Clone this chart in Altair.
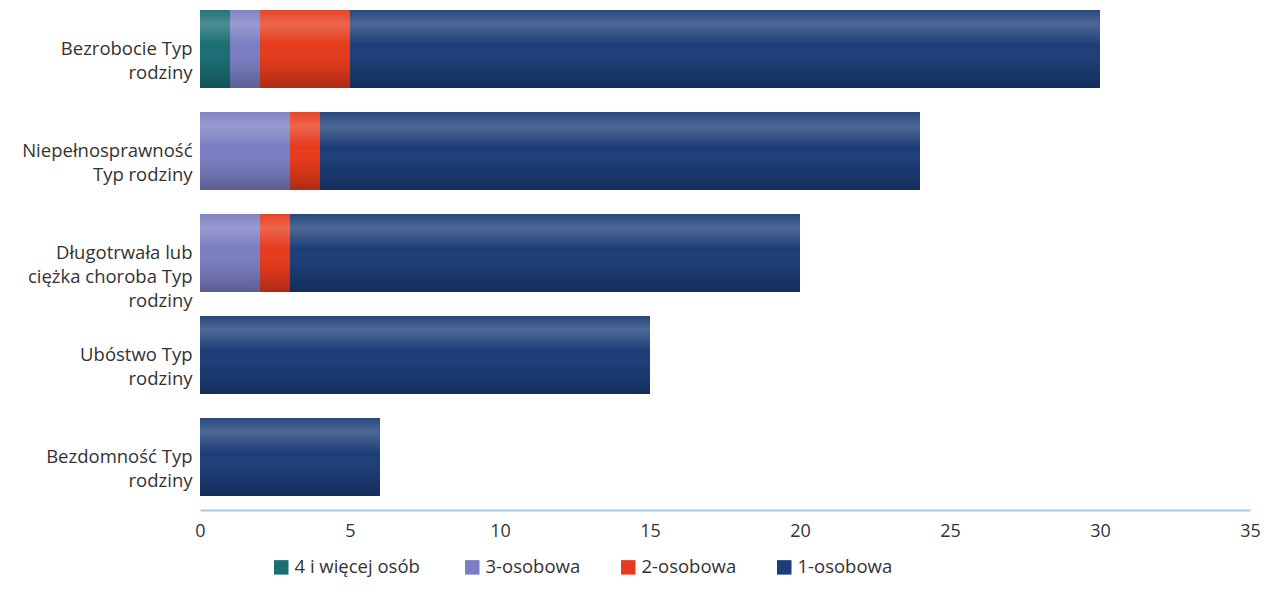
import altair as alt
import pandas as pd

categories = [
    "Bezrobocie Typ|rodziny",
    "Niepełnosprawność|Typ rodziny",
    "Długotrwała lub|ciężka choroba Typ|rodziny",
    "Ubóstwo Typ|rodziny",
    "Bezdomność Typ|rodziny",
]
series = ["4  i więcej osób", "3-osobowa", "2-osobowa", "1-osobowa"]
colors = ["#1a6e74", "#7a7ec2", "#e63b1c", "#1c3e78"]
v_4plus = [1, 0, 0, 0, 0]
v_3 = [1, 3, 2, 0, 0]
v_2 = [3, 1, 1, 0, 0]
v_1 = [25, 20, 17, 15, 6]
x_ticks = [0, 5, 10, 15, 20, 25, 30, 35]

rows = []
for s_i, vals in enumerate([v_4plus, v_3, v_2, v_1]):
    for c, v in zip(categories, vals):
        if v > 0:
            rows.append({"kategoria": c, "typ": series[s_i], "wartosc": v, "kolejnosc": s_i})
df = pd.DataFrame(rows)

y_enc = alt.Y(
    "kategoria:N",
    sort=categories,
    title=None,
    scale=alt.Scale(paddingInner=0.235, paddingOuter=0.02),
    axis=alt.Axis(
        domain=False, ticks=False, labelFontSize=18.5, labelColor="#333333",
        labelFont="Open Sans", labelPadding=8, minExtent=187, maxExtent=187,
        labelLimit=260, labelLineHeight=24,
        labelExpr="split(datum.label, '|')",
    ),
)

bars = alt.Chart(df).mark_bar().encode(
    x=alt.X(
        "sum(wartosc):Q",
        title=None,
        scale=alt.Scale(domain=[0, 35], nice=False),
        axis=alt.Axis(
            values=x_ticks, grid=False, ticks=False, domainColor="#a9cce6",
            domainWidth=2, labelFontSize=18, labelColor="#333333",
            labelFont="Open Sans", labelPadding=12, offset=12, labelFlush=False,
        ),
    ),
    y=y_enc,
    color=alt.Color(
        "typ:N",
        sort=series,
        scale=alt.Scale(domain=series, range=colors),
        legend=alt.Legend(
            title=None, orient="none", legendX=72, legendY=550,
            direction="horizontal", padding=0,
            symbolType="square", symbolSize=210, labelFontSize=18.5,
            labelFont="Open Sans", labelColor="#333333", columnPadding=38,
            symbolStrokeWidth=0, labelOffset=4,
        ),
    ),
    order=alt.Order("kolejnosc:Q", sort="ascending"),
)

shine = alt.Chart(df).mark_bar(
    color=alt.Gradient(
        gradient="linear", x1=0, x2=0, y1=0, y2=1,
        stops=[
            alt.GradientStop(color="rgba(255,255,255,0.05)", offset=0),
            alt.GradientStop(color="rgba(255,255,255,0.22)", offset=0.18),
            alt.GradientStop(color="rgba(255,255,255,0.0)", offset=0.45),
            alt.GradientStop(color="rgba(0,0,0,0.05)", offset=0.7),
            alt.GradientStop(color="rgba(0,0,0,0.25)", offset=1),
        ],
    )
).encode(
    x=alt.X("sum(wartosc):Q"),
    y=alt.Y("kategoria:N", sort=categories),
)

chart = alt.layer(bars, shine).properties(
    width=1050, height=490,
    padding={"left": 5, "top": 0, "right": 0, "bottom": 0},
).configure(font="Open Sans").configure_view(stroke="transparent", strokeWidth=0)

chart.save("out.html", embed_options={"renderer": "svg", "actions": False})
